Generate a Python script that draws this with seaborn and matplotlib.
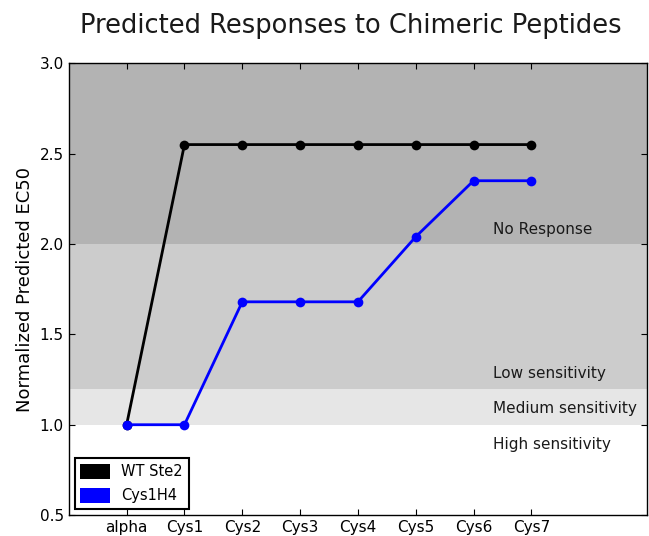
import matplotlib

matplotlib.use("Agg")
import matplotlib.pyplot as plt  # noqa: E402
import matplotlib.patches as mpatches  # noqa: E402
import pandas as pd  # noqa: E402
import seaborn as sns  # noqa: E402

peptides = ["alpha", "Cys1", "Cys2", "Cys3", "Cys4", "Cys5", "Cys6", "Cys7"]
wt_ste2 = [1.0, 2.55, 2.55, 2.55, 2.55, 2.55, 2.55, 2.55]
cys1h4 = [1.0, 1.0, 1.68, 1.68, 1.68, 2.04, 2.35, 2.35]

band_edges = [0.5, 1.0, 1.2, 2.0, 3.0]
band_colours = ["white", "#e6e6e6", "#cccccc", "#b3b3b3"]
band_labels = [("High sensitivity", 0.85), ("Medium sensitivity", 1.05),
               ("Low sensitivity", 1.24), ("No Response", 2.04)]

sns.set_style("ticks")
plt.rcParams["font.family"] = ["DejaVu Sans"]
plt.rcParams.update({"text.color": "black", "axes.labelcolor": "black",
                     "xtick.color": "black", "ytick.color": "black"})

frame = pd.DataFrame({
    "pos": list(range(len(peptides))) * 2,
    "value": wt_ste2 + cys1h4,
    "series": ["WT Ste2"] * len(peptides) + ["Cys1H4"] * len(peptides),
})

figure = plt.figure(figsize=(6.49, 5.36), dpi=100)
axis = figure.add_axes([0.106, 0.039, 0.891, 0.843])

for low, high, colour in zip(band_edges[:-1], band_edges[1:], band_colours):
    axis.axhspan(low, high, color=colour, zorder=0, lw=0)

sns.lineplot(
    data=frame, x="pos", y="value", hue="series",
    palette={"WT Ste2": "black", "Cys1H4": "blue"},
    marker="o", markersize=7, markeredgewidth=0, linewidth=2,
    legend=False, ax=axis, zorder=3,
)

for text, y in band_labels:
    axis.text(6.33, y, text, fontsize=11, va="bottom", ha="left", color="#1a1a1a")

axis.set_xlim(-1, 9)
axis.set_ylim(0.5, 3.0)
axis.set_xticks(range(len(peptides)))
axis.set_xticklabels(peptides)
axis.set_yticks([0.5, 1.0, 1.5, 2.0, 2.5, 3.0])
axis.tick_params(direction="in", top=True, right=True, labelsize=11, length=4)
axis.set_xlabel("")
axis.set_ylabel("Normalized Predicted EC50", fontsize=13)
for spine in axis.spines.values():
    spine.set_color("black")
    spine.set_linewidth(1)
figure.suptitle("Predicted Responses to Chimeric Peptides", fontsize=18.5,
                x=0.54, y=0.975, color="#1a1a1a")

handles = [mpatches.Patch(facecolor="black", edgecolor="none", label="WT Ste2"),
           mpatches.Patch(facecolor="blue", edgecolor="none", label="Cys1H4")]
legend = axis.legend(handles=handles, loc="lower left", fontsize=10.5, fancybox=False,
                     framealpha=1, edgecolor="black", handlelength=2.0,
                     handleheight=1.2, labelspacing=0.6, borderaxespad=0.4)
legend.get_frame().set_linewidth(1.5)

figure.savefig("out.png", dpi=100)
